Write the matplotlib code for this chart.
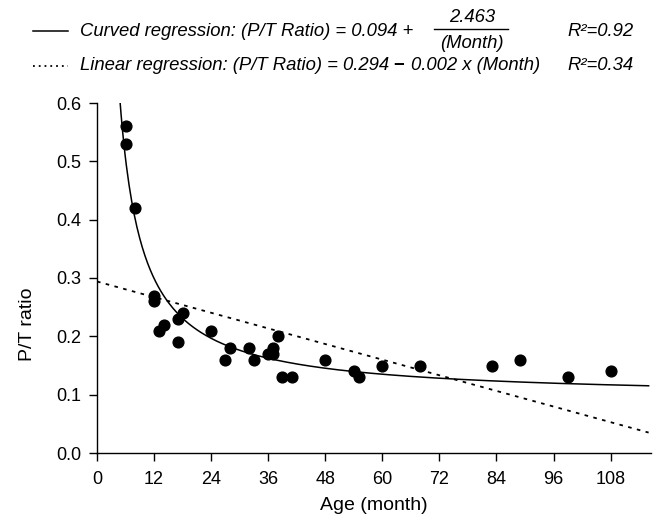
import numpy as np
import matplotlib
matplotlib.use("Agg")
import matplotlib.pyplot as plt
from matplotlib.lines import Line2D

plt.rcParams['font.family'] = ['Liberation Sans', 'DejaVu Sans']

# 数据：年龄（月）与 P/T 比值
age_month = [6, 6, 8, 12, 12, 13, 14, 17, 17, 18, 24, 27, 28, 32, 33,
             36, 37, 37, 38, 39, 41, 48, 54, 55, 60, 68, 83, 89, 99, 108]
pt_ratio = [0.56, 0.53, 0.42, 0.27, 0.26, 0.21, 0.22, 0.19, 0.23, 0.24,
            0.21, 0.16, 0.18, 0.18, 0.16, 0.17, 0.17, 0.18, 0.20, 0.13,
            0.13, 0.16, 0.14, 0.13, 0.15, 0.15, 0.15, 0.16, 0.13, 0.14]

# 回归系数
curve_a, curve_b = 0.094, 2.463
line_x = [0, 116]
line_y = [0.294, 0.035]

x_ticks = [0, 12, 24, 36, 48, 60, 72, 84, 96, 108]
y_ticks = [0.0, 0.1, 0.2, 0.3, 0.4, 0.5, 0.6]

W, H = 659, 524
fig = plt.figure(figsize=(W / 100, H / 100), dpi=100)
ax = fig.add_axes([97 / W, 1 - 453 / H, 554 / W, 350 / H])

# 曲线回归
xc = np.linspace(4.5, 116, 400)
ax.plot(xc, curve_a + curve_b / xc, color='black', lw=1.1)
# 线性回归
ax.plot(line_x, line_y, color='black', lw=1.3, linestyle=(0, (2, 3)))
# 散点
ax.scatter(age_month, pt_ratio, s=60, color='black', zorder=3, clip_on=False)

ax.set_xlim(0, 116.5)
ax.set_ylim(0, 0.6)
ax.set_xticks(x_ticks)
ax.set_yticks(y_ticks)
ax.set_yticklabels([f"{v:.1f}" for v in y_ticks])
ax.spines['top'].set_visible(False)
ax.spines['right'].set_visible(False)
for s in ['left', 'bottom']:
    ax.spines[s].set_linewidth(1.0)
ax.tick_params(direction='out', length=6, width=1.0, labelsize=13, pad=5)
ax.tick_params(axis='x', pad=7)

ax.set_xlabel('Age (month)', fontsize=14)
ax.set_ylabel('P/T ratio', fontsize=14)
ax.xaxis.set_label_coords(0.5, -0.149)
ax.xaxis.label.set_va('center')
ax.yaxis.set_label_coords(-0.125, 0.369)
ax.yaxis.label.set_va('center')

# 顶部说明（图例）
def fx(px):
    return px / W

def fy(py):
    return 1 - py / H

fs = 13.3
y1, y2 = 31, 66
fig.add_artist(Line2D([fx(33), fx(68)], [fy(y1), fy(y1)], color='black', lw=1.1))
fig.add_artist(Line2D([fx(33), fx(68)], [fy(y2), fy(y2)], color='black', lw=1.3,
                      linestyle=(0, (1, 2.2))))
fig.text(fx(80), fy(y1), 'Curved regression: (P/T Ratio) = 0.094 +',
         fontsize=fs, style='italic', va='center', ha='left')
fig.text(fx(472), fy(17), '2.463', fontsize=fs, style='italic', va='center', ha='center')
fig.add_artist(Line2D([fx(434), fx(508)], [fy(29), fy(29)], color='black', lw=1.0))
fig.text(fx(472), fy(44), '(Month)', fontsize=fs, style='italic', va='center', ha='center')
t1 = fig.text(fx(80), fy(y2), 'Linear regression: (P/T Ratio) = 0.294',
              fontsize=fs, style='italic', va='center', ha='left')
fig.text(fx(567), fy(y1), 'R\u00b2=0.92', fontsize=fs, style='italic', va='center', ha='left')
fig.text(fx(567), fy(y2), 'R\u00b2=0.34', fontsize=fs, style='italic', va='center', ha='left')

# 第二行的减号与后半部分
fig.canvas.draw()
x_end = t1.get_window_extent().x1
fig.text((x_end + 9) / W, fy(y2), '\u2212', fontsize=fs, fontweight='bold',
         va='center', ha='center')
fig.text((x_end + 22) / W, fy(y2), '0.002 x (Month)', fontsize=fs, style='italic',
         va='center', ha='left')

fig.savefig('out.png', dpi=100)
